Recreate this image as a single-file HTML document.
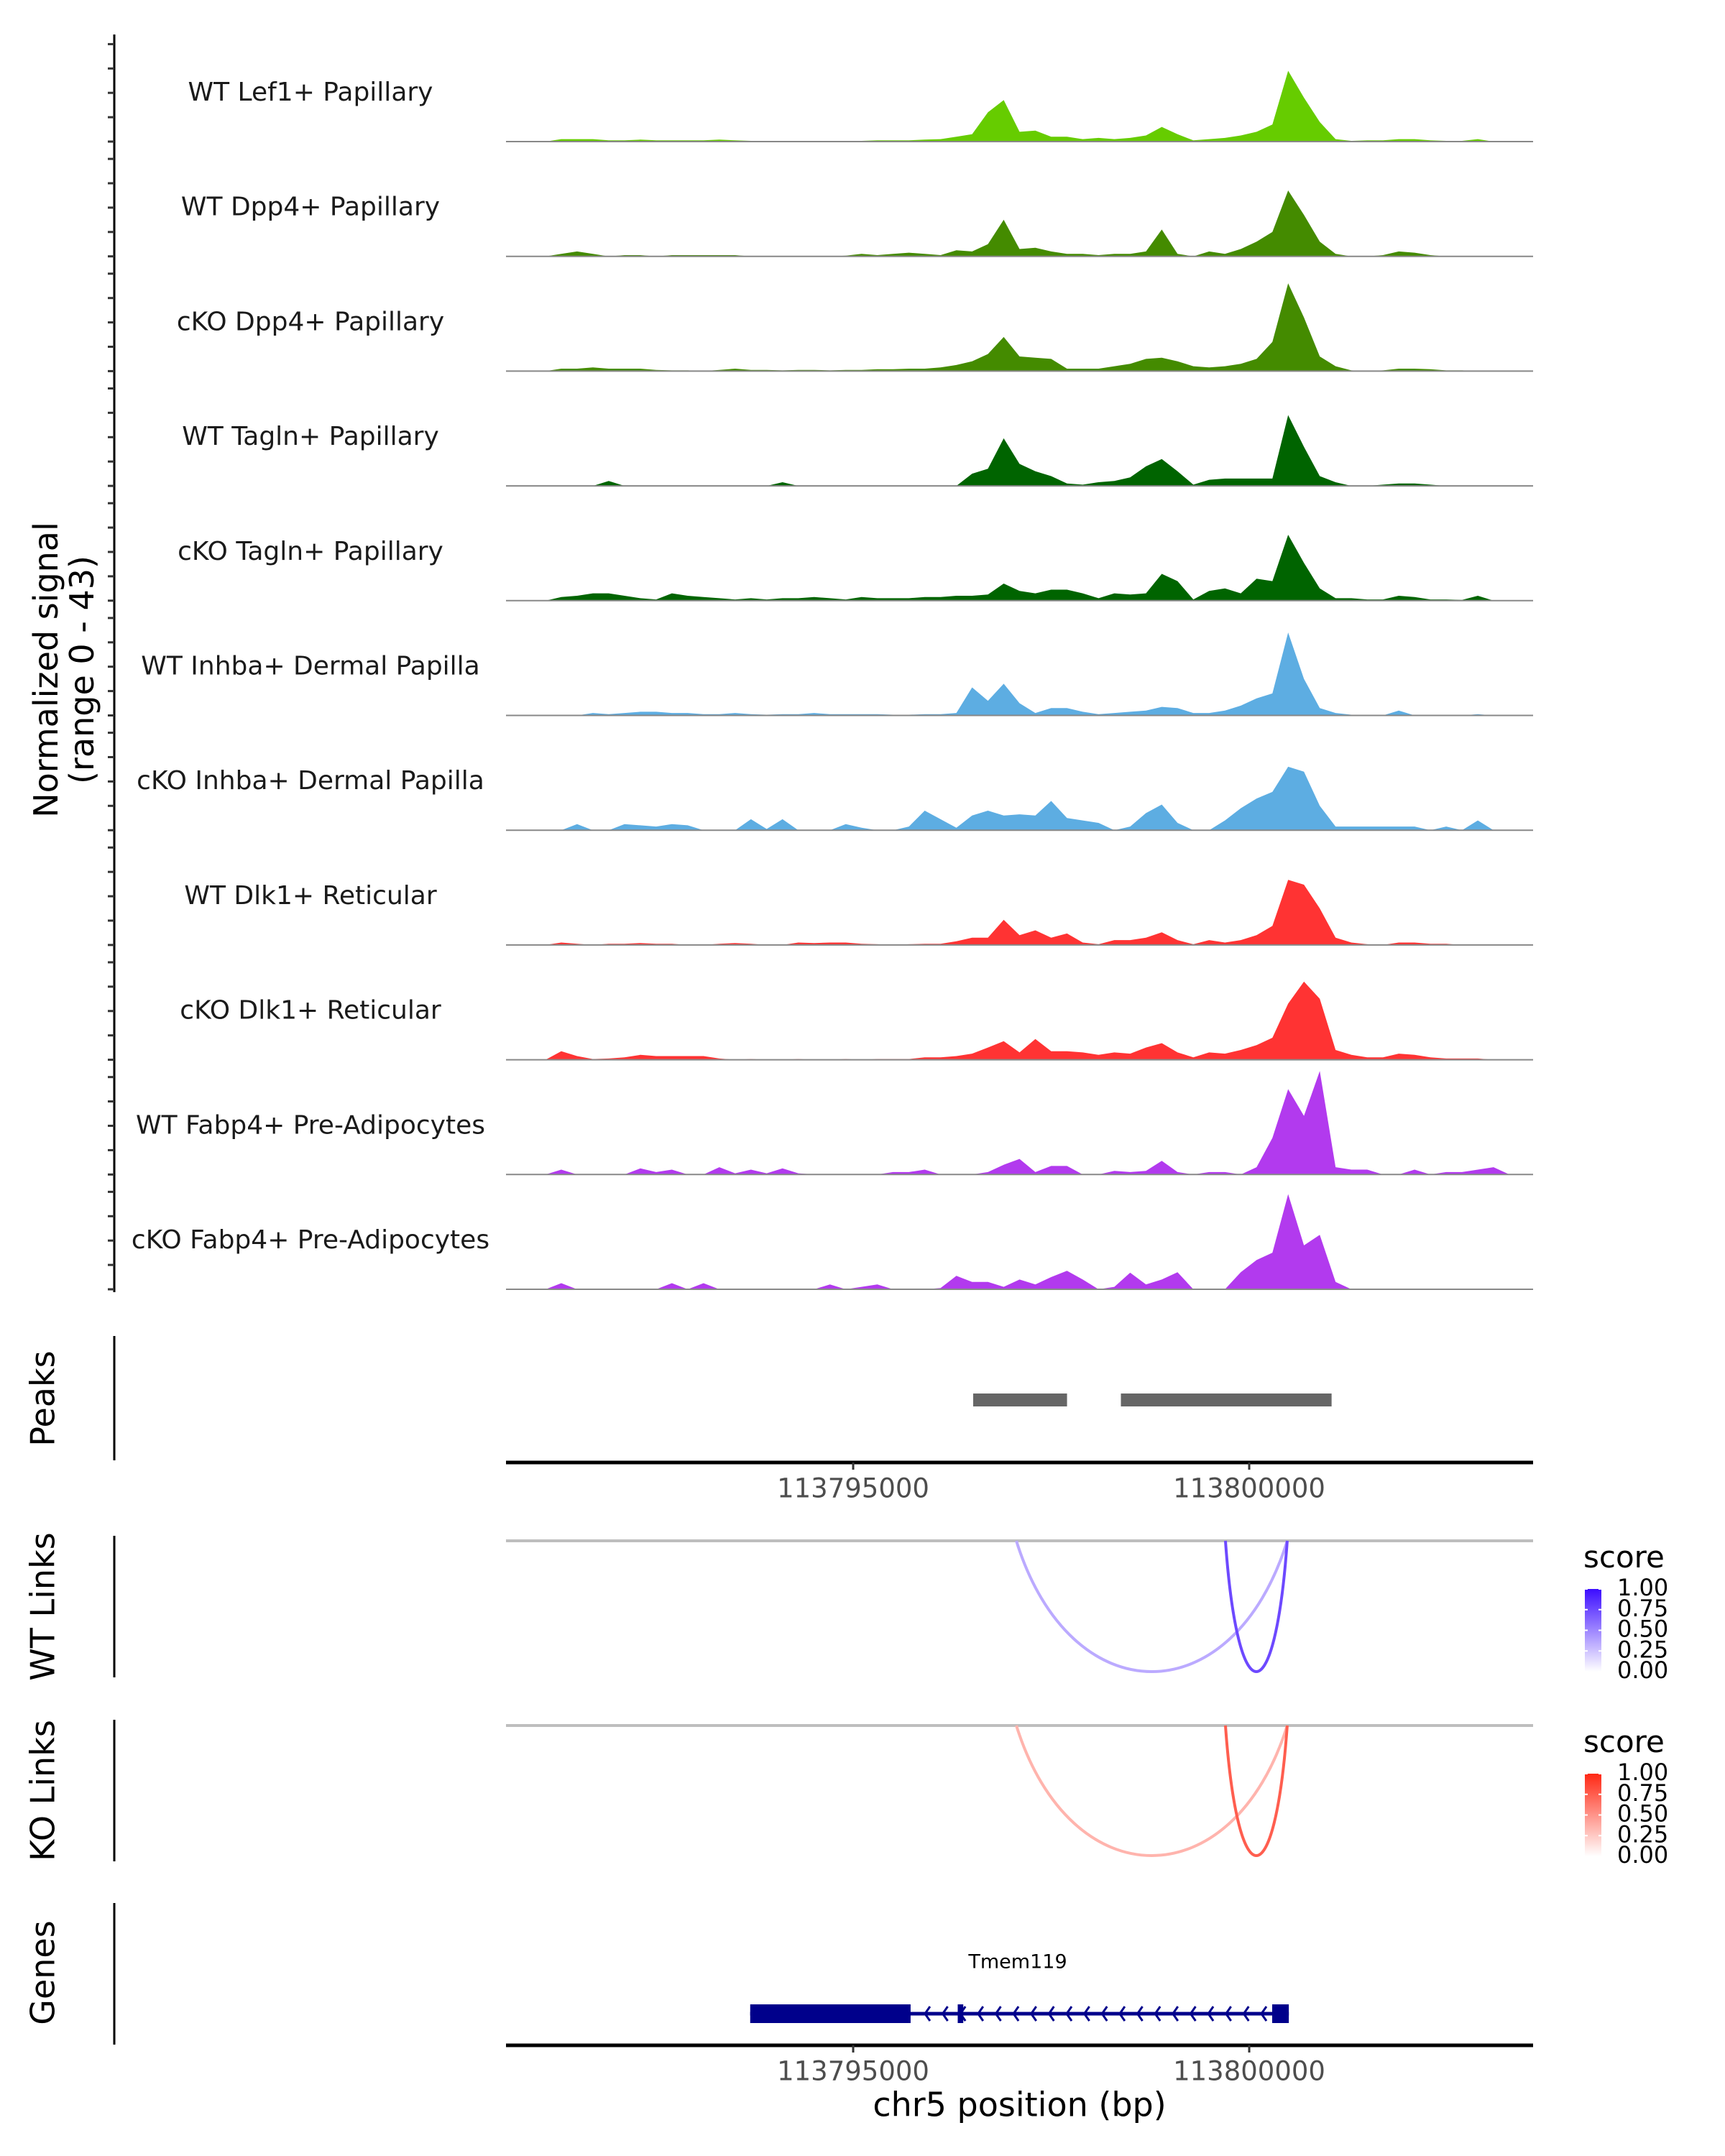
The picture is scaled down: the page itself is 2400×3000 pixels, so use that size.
<!DOCTYPE html>
<html><head><meta charset="utf-8">
<style>
html,body{margin:0;padding:0;background:#fff;}
svg{display:block;}
text{font-family:"DejaVu Sans","Liberation Sans",sans-serif;}
</style></head>
<body>
<svg id="chart" width="2400" height="3000" viewBox="0 0 2400 3000" xmlns="http://www.w3.org/2000/svg">
<g id="g-signal"></g>
<g id="g-peaks"></g>
<g id="g-links"></g>
<g id="g-genes"></g>
</svg>
<script>
// ---- data ----
const regionStart = 113790617;
const regionEnd = 113803584;
const nBins = 65;
const trackNames = ["WT Lef1+ Papillary","WT Dpp4+ Papillary","cKO Dpp4+ Papillary","WT Tagln+ Papillary","cKO Tagln+ Papillary","WT Inhba+ Dermal Papilla","cKO Inhba+ Dermal Papilla","WT Dlk1+ Reticular","cKO Dlk1+ Reticular","WT Fabp4+ Pre-Adipocytes","cKO Fabp4+ Pre-Adipocytes"];
const trackColors = ["#66cc00","#448b00","#448b00","#006400","#006400","#5dade2","#5dade2","#ff3333","#ff3333","#b23aee","#b23aee"];
const sigLef1WT = [0,0,0,1,1,1,0.5,0.5,0.8,0.5,0.5,0.5,0.5,0.8,0.5,0.3,0.3,0.3,0.3,0.3,0.3,0.3,0.3,0.5,0.5,0.5,0.8,1,2,3,12,17,4,4.5,2,2,1,1.5,1,1.5,2.5,6,3,0.5,1,1.5,2.5,4,7,29,18,8,1,0.3,0.5,0.5,1,1,0.5,0.3,0.3,1,0,0,0];
const sigDpp4WT = [0,0,0,1,2,1,0,0.5,0.5,0,0.5,0.5,0.5,0.5,0.5,0,0,0,0,0,0,0.3,1,0.5,1,1.5,1,0.5,2.5,2,5,15,3,3.5,2,1,1,0.5,1,1,2,11,1,0,2,1,3,6,10,27,17,6,1,0,0,0.5,2,1.5,0.5,0,0,0,0,0,0];
const sigDpp4KO = [0,0,0,1,1,1.5,1,1,1,0.5,0.3,0.3,0,0.5,1,0.5,0.5,0.3,0.5,0.5,0.3,0.5,0.5,0.8,0.8,1,1,1.5,2.5,4,7,14,6,5.5,5,1,1,1,2,3,5,5.5,4,2,1.5,2,3,5,12,36,22,6,2,0.3,0,0.3,1,1,0.8,0.3,0.3,0,0,0,0];
const sigTaglnWT = [0,0,0,0,0,0,2,0,0,0,0,0,0,0,0,0,0,1.5,0,0,0,0,0,0,0,0,0,0,0,5,7,19.5,9,6,4,1,0.5,1.5,2,3.5,8,11,6,0.5,2.5,3,3,3,3,29,16,4,1.5,0,0,0.5,1,1,0.5,0,0,0,0,0,0];
const sigTaglnKO = [0,0,0,1.5,2,3,3,2,1,0.5,3,2,1.5,1,0.5,1,0.5,1,1,1.5,1,0.5,1.5,1,1,1,1.5,1.5,2,2,2.5,7,4,3,4.5,4.5,3,1,3,2.5,3,11,8,0.5,4,5,3,9,8,27,15.5,5,1,1,0.5,0.5,2,1.5,0.5,0.5,0.3,2,0,0,0];
const sigInhbaWT = [0,0,0,0,0,1,0.5,1,1.5,1.5,1,1,0.5,0.5,1,0.5,0.3,0.5,0.5,1,0.5,0.5,0.5,0.5,0.3,0.3,0.5,0.5,1,11.5,6,13,5,1,3,3,1.5,0.5,1,1.5,2,3.5,3,1,1,2,4,7,9,34,15,3,1,0.3,0.3,0,2,0,0,0,0,0.5,0,0,0];
const sigInhbaKO = [0,0,0,0,2.5,0,0,2.5,2,1.5,2.5,2,0,0,0,4.5,0.5,4.5,0,0,0,2.5,1,0,0,1.5,8,4.5,1,6,8,6,6.5,6,12,5,4,3,0,1.5,7,10.5,3,0,0,4,9,13,15.7,26,24,10,1.5,1.5,1.5,1.5,1.5,1.5,0,1.5,0,4,0,0,0];
const sigDlk1WT = [0,0,0,1,0.5,0,0.5,0.5,0.8,0.5,0.5,0,0,0.5,0.8,0.5,0,0,1,0.8,1,1,0.5,0.3,0,0.3,0.5,0.5,1.5,3,3,10.3,4,6,3,4.7,1,0.3,2,2,3,5.2,2,0.3,2,1,2,4,7.8,26.7,24.7,15,3,1,0.3,0,1,1,0.5,0.5,0,0,0,0,0];
const sigDlk1KO = [0,0,0,3.5,1.5,0.3,0.5,1,2,1.5,1.5,1.5,1.5,0.5,0,0.3,0,0,0.3,0,0,0.3,0,0.3,0.3,0.3,1,1,1.5,2.5,5,7.6,3,8.5,3.5,3.5,3,2,3,2.5,5,6.8,3,1,3,2.5,4,6,9,23,32,25,4,2,1,1,2.5,2,1,0.5,0.5,0.5,0,0,0];
const sigFabp4WT = [0,0,0,2,0,0,0,0,2.5,1,2,0,0,3,0.5,2,0.5,2.5,0.5,0,0,0,0,0,1,1,2,0,0,0,1,4,6.4,1,3.5,3.5,0,0,1.5,1,1.5,5.6,1,0,1,1,0,3,15,35,24,42.4,3,2,2,0,0,2,0,1,1,2,3,0,0];
const sigFabp4KO = [0,0,0,2.5,0,0,0,0,0,0,2.5,0,2.5,0,0,0,0,0,0,0,2,0,1,2,0,0,0,0.5,5.5,3,3,1,4,2,5,7.6,4,0,1,6.8,2,4,7,0,0,0,7,12,15,39,18,22.3,3,0,0,0,0,0,0,0,0,0,0,0,0];
const signals = [sigLef1WT,sigDpp4WT,sigDpp4KO,sigTaglnWT,sigTaglnKO,sigInhbaWT,sigInhbaKO,sigDlk1WT,sigDlk1KO,sigFabp4WT,sigFabp4KO];
const yMax = 43;
const yTicks = [0,10,20,30,40];
const xTicks = [113795000,113800000];
const xTickLabels = ["113795000","113800000"];
const peakStarts = [113796515,113798380];
const peakEnds = [113797700,113801040];
const linkStarts = [113797060,113799700];
const linkEnds = [113800480,113800480];
const linkScores = [0.35,0.75];
const legendTicks = [1.00,0.75,0.50,0.25,0.00];
const legendTickLabels = ["1.00","0.75","0.50","0.25","0.00"];
const geneName = "Tmem119";
const geneStart = 113793700;
const geneEnd = 113800500;
const exonStarts = [113793700,113796320,113800290];
const exonEnds = [113795725,113796390,113800500];

// ---- layout ----
const NS = "http://www.w3.org/2000/svg";
const X0 = 704, X1 = 2133;
const xScale = bp => X0 + (bp - regionStart) * (X1 - X0) / (regionEnd - regionStart);
const trackBase0 = 197, trackStep = 159.7, unitPx = 146 / yMax;
function el(tag, attrs, parent){ const e=document.createElementNS(NS,tag); for(const k in attrs) e.setAttribute(k,attrs[k]); parent.appendChild(e); return e; }
function txt(s, attrs, parent){ const t=el("text",attrs,parent); t.textContent=s; return t; }

// signal panel
const gS = document.getElementById("g-signal");
const yAxis = el("line",{x1:159,x2:159,y1:48,y2:1798,stroke:"#000","stroke-width":3},gS);


const binW = (regionEnd - regionStart) / nBins;
signals.forEach((vals, t) => {
  const base = trackBase0 + t * trackStep;
  const g = el("g",{},gS);
  
  
  yTicks.forEach(v => {
    const ty = base - v * 33.9/10;
    const tk = el("line",{x1:150,x2:159,y1:ty,y2:ty,stroke:"#333","stroke-width":3},g);
    
    
  });
  let d = "M" + X0 + "," + base;
  vals.forEach((v, i) => {
    const bx = xScale(regionStart + (i + 0.5) * binW);
    d += " L" + bx.toFixed(1) + "," + (base - v * unitPx).toFixed(1);
  });
  d += " L" + X1 + "," + base + " Z";
  const area = el("path",{d:d,fill:trackColors[t],stroke:"none"},g);
  
  
  const bl = el("line",{x1:X0,x2:X1,y1:base,y2:base,stroke:"#888","stroke-width":2},g);
  
  
  const lab = txt(trackNames[t],{x:432,y:base-67,"font-size":36,"text-anchor":"middle","dominant-baseline":"middle",fill:"#1a1a1a"},g);
  
  
});
const yTitle = txt("",{transform:"translate(88,932) rotate(-90)","font-size":46,"text-anchor":"middle",fill:"#000"},gS);


const ts1 = el("tspan",{x:0,y:-8},yTitle); ts1.textContent="Normalized signal";
const ts2 = el("tspan",{x:0,y:42},yTitle); ts2.textContent="(range 0 - 43)";

// x-axis helper
function xAxis(parent, y, name){
  const g = el("g",{},parent);
  
  
  el("line",{x1:X0,x2:X1,y1:y,y2:y,stroke:"#000","stroke-width":5},g);
  xTicks.forEach((v,i)=>{
    const tx = xScale(v);
    el("line",{x1:tx,x2:tx,y1:y,y2:y+10,stroke:"#333","stroke-width":3},g);
    const l = txt(xTickLabels[i],{x:tx,y:y+38,"font-size":37,"text-anchor":"middle","dominant-baseline":"middle",fill:"#4d4d4d"},g);
    
    
  });
}
function sideLabel(parent, s, y, y1, y2, name){
  const a = el("line",{x1:159,x2:159,y1:y1,y2:y2,stroke:"#000","stroke-width":3},parent);
  
  
  const t = txt(s,{transform:"translate(63,"+y+") rotate(-90)","font-size":46,"text-anchor":"middle","dominant-baseline":"middle",fill:"#000"},parent);
  
  
}

// peaks
const gP = document.getElementById("g-peaks");
sideLabel(gP,"Peaks",1946,1859,2032,'peaks');
peakStarts.forEach((s,i)=>{
  const r = el("rect",{x:xScale(s),y:1939,width:xScale(peakEnds[i])-xScale(s),height:18,fill:"#666"},gP);
  
  
});
xAxis(gP,2035,'peaks-x-axis');

// links
const gL = document.getElementById("g-links");
function linkPanel(label, top, bottom, axisTop, axisBot, hue, legendTop, name){
  sideLabel(gL,label,(axisTop+axisBot)/2,axisTop,axisBot,name);
  const bl = el("line",{x1:X0,x2:X1,y1:top,y2:top,stroke:"#bebebe","stroke-width":4},gL);
  
  
  const h = bottom - top;
  const col = s => hue==="blue" ? `rgb(${Math.round(255-(255-60)*s)},${Math.round(255-255*s*0.95)},255)` : `rgb(255,${Math.round(255-(255-40)*s)},${Math.round(255-(255-20)*s)})`;
  linkStarts.forEach((s,i)=>{
    const xa = xScale(s), xb = xScale(linkEnds[i]), w = xb-xa;
    const d = `M${xa},${top} C${xa+w*0.2},${top+h*4/3} ${xb-w*0.2},${top+h*4/3} ${xb},${top}`;
    const p = el("path",{d:d,fill:"none",stroke:col(linkScores[i]),"stroke-width":4},gL);
    
    
  });
  const lg = el("g",{},gL);
  
  
  txt("score",{x:2203,y:legendTop-30,"font-size":42,fill:"#000"},lg);
  const gid = "grad-"+name;
  const defs = el("defs",{},lg);
  const lgr = el("linearGradient",{id:gid,x1:0,y1:1,x2:0,y2:0},defs);
  el("stop",{offset:"0",'stop-color':col(0)},lgr);
  el("stop",{offset:"1",'stop-color':col(1)},lgr);
  const barTop = legendTop, barH = 115;
  el("rect",{x:2205,y:barTop,width:23,height:barH,fill:`url(#${gid})`},lg);
  legendTicks.forEach((v,i)=>{
    const ty = barTop + barH*(1-v);
    el("line",{x1:2205,x2:2209,y1:ty,y2:ty,stroke:"#fff","stroke-width":2},lg);
    el("line",{x1:2224,x2:2228,y1:ty,y2:ty,stroke:"#fff","stroke-width":2},lg);
    const l = txt(legendTickLabels[i],{x:2250,y:ty,"font-size":32,"dominant-baseline":"middle",fill:"#000"},lg);
    
    
  });
}
linkPanel("WT Links",2144,2326,2137,2334,"blue",2211,'wt-links');
linkPanel("KO Links",2401,2582,2393,2590,"red",2468,'ko-links');

// genes
const gG = document.getElementById("g-genes");
sideLabel(gG,"Genes",2745,2648,2845,'genes');
const gl = el("line",{x1:xScale(geneStart),x2:xScale(geneEnd),y1:2802,y2:2802,stroke:"#00008b","stroke-width":5},gG);


const nArrows = 20;
const ax0 = xScale(exonEnds[0]) + 20, ax1 = xScale(exonStarts[2]) - 15;
for(let k=0;k<nArrows;k++){
  const ax = ax0 + (ax1-ax0)*k/(nArrows-1);
  const ch = el("path",{d:`M${ax+7},${2792} L${ax},${2802} L${ax+7},${2812}`,fill:"none",stroke:"#00008b","stroke-width":3},gG);
  
  
}
exonStarts.forEach((s,i)=>{
  const r = el("rect",{x:xScale(s),y:2789,width:xScale(exonEnds[i])-xScale(s),height:26,fill:"#00008b"},gG);
  
  
});
const gn = txt(geneName,{x:1416,y:2731,"font-size":27,"text-anchor":"middle","dominant-baseline":"middle",fill:"#000"},gG);


xAxis(gG,2846,'genes-x-axis');
const xt = txt("chr5 position (bp)",{x:(X0+X1)/2,y:2932,"font-size":46,"text-anchor":"middle","dominant-baseline":"middle",fill:"#000"},gG);


</script>
</body></html>
